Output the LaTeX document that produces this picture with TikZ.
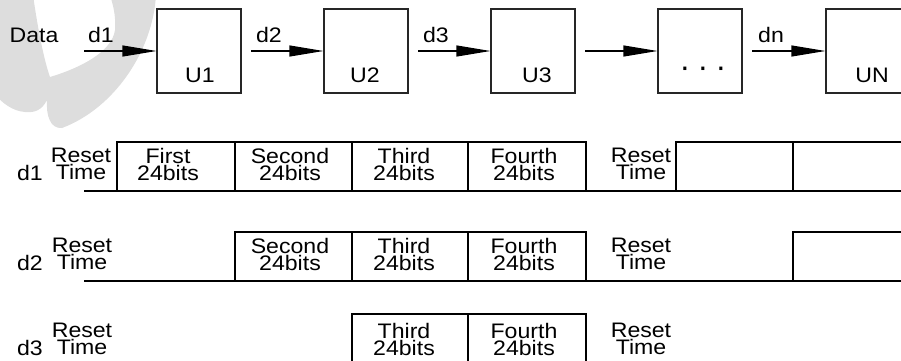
\documentclass[tikz,border=0pt]{standalone}
\usepackage{fontspec}
\usepackage{graphicx}
\setmainfont{Liberation Sans}
\usetikzlibrary{arrows.meta}
\definecolor{wm}{RGB}{221,221,221}
\newcommand{\mywide}[1]{\scalebox{1.1}[1]{#1}}
\begin{document}
\begin{tikzpicture}[x=0.5pt,y=-0.5pt,
  ubox/.style={draw=black!85, line width=0.6pt, minimum width=42pt, minimum height=42pt, inner sep=0pt},
  lbl/.style={font=\fontsize{10.5}{12}\selectfont, anchor=base, inner sep=0pt},
  two/.style={font=\fontsize{10.5}{8.5}\selectfont, align=center, anchor=center, inner sep=0pt},
  arr/.style={-{Triangle[length=17pt,width=5.5pt]}, line width=0.6pt},
  tl/.style={line width=0.6pt}]
\useasboundingbox (0,0) rectangle (901,360);
\clip (0,0) rectangle (901,360);
% watermark
\fill[wm] (-5,-5) -- (33,-5) .. controls (38,30) and (44,60) .. (50,77)
  .. controls (80,68) and (112,52) .. (115,30) .. controls (116,15) and (113,5) .. (110,-5)
  -- (156,-5) .. controls (153,50) and (115,108) .. (62,128)
  .. controls (50,129) and (46,115) .. (47,100)
  .. controls (42,110) and (35,113) .. (25,112)
  .. controls (12,111) and (3,103) .. (-5,95) -- cycle;
% units
\node[ubox] (u1) at (199,51) {};
\node[ubox] (u2) at (366,51) {};
\node[ubox] (u3) at (533,51) {};
\node[ubox] (u4) at (700,51) {};
\node[ubox] (u5) at (868,51) {};
\coordinate (a1) at (84,51);
\coordinate (a2) at (251,51);
\coordinate (a3) at (418,51);
\coordinate (a4) at (585,51);
\coordinate (a5) at (752,51);
\draw[arr] (a1) -- (u1);
\draw[arr] (a2) -- (u2);
\draw[arr] (a3) -- (u3);
\draw[arr] (a4) -- (u4);
\draw[arr] (a5) -- (u5);
\node[lbl] (tdata) at (34,42) {\mywide{Data}};
\node[lbl] (td1) at (101,42) {\mywide{d1}};
\node[lbl] (td2) at (269,42) {\mywide{d2}};
\node[lbl] (td3) at (436,42) {\mywide{d3}};
\node[lbl] (tdn) at (771,42) {\mywide{dn}};
\node[lbl] (tu1) at (200,82) {\mywide{U1}};
\node[lbl] (tu2) at (365,82) {\mywide{U2}};
\node[lbl] (tu3) at (537,82) {\mywide{U3}};
\node[inner sep=0pt, font=\fontsize{16}{16}\selectfont] (tu4) at (703,72) {·\hspace{3.7pt}·\hspace{3.7pt}·};
\node[lbl] (tu5) at (872,82) {\mywide{UN}};
% row d1
\draw[tl] (84,191) -- (905,191);
\draw[tl] (117,191) -- (117,142) -- (586,142) -- (586,191);
\draw[tl] (235,142) -- (235,191) (352,142) -- (352,191) (468,142) -- (468,191);
\draw[tl] (676,191) -- (676,142) -- (905,142);
\draw[tl] (793,142) -- (793,191);
\node[lbl] (r1d) at (30,180) {\mywide{d1}};
\node[two] (r1a) at (81,164) {\mywide{Reset}\\\mywide{Time}};
\node[two] (r1b) at (168,164) {\mywide{First}\\\mywide{24bits}};
\node[two] (r1c) at (290,164) {\mywide{Second}\\\mywide{24bits}};
\node[two] (r1e) at (404,164) {\mywide{Third}\\\mywide{24bits}};
\node[two] (r1f) at (524,164) {\mywide{Fourth}\\\mywide{24bits}};
\node[two] (r1g) at (641,164) {\mywide{Reset}\\\mywide{Time}};
% row d2
\draw[tl] (84,281) -- (905,281);
\draw[tl] (235,281) -- (235,232) -- (586,232) -- (586,281);
\draw[tl] (352,232) -- (352,281) (468,232) -- (468,281);
\draw[tl] (793,281) -- (793,232) -- (905,232);
\node[lbl] (r2d) at (30,270) {\mywide{d2}};
\node[two] (r2a) at (82,254) {\mywide{Reset}\\\mywide{Time}};
\node[two] (r2c) at (290,254) {\mywide{Second}\\\mywide{24bits}};
\node[two] (r2e) at (404,254) {\mywide{Third}\\\mywide{24bits}};
\node[two] (r2f) at (524,254) {\mywide{Fourth}\\\mywide{24bits}};
\node[two] (r2g) at (641,254) {\mywide{Reset}\\\mywide{Time}};
% row d3
\draw[tl] (84,363) -- (905,363);
\draw[tl] (352,363) -- (352,314) -- (586,314) -- (586,363);
\draw[tl] (468,314) -- (468,363);
\node[lbl] (r3d) at (30,355) {\mywide{d3}};
\node[two] (r3a) at (82,339) {\mywide{Reset}\\\mywide{Time}};
\node[two] (r3e) at (404,339) {\mywide{Third}\\\mywide{24bits}};
\node[two] (r3f) at (524,339) {\mywide{Fourth}\\\mywide{24bits}};
\node[two] (r3g) at (641,339) {\mywide{Reset}\\\mywide{Time}};
\end{tikzpicture}
\end{document}
